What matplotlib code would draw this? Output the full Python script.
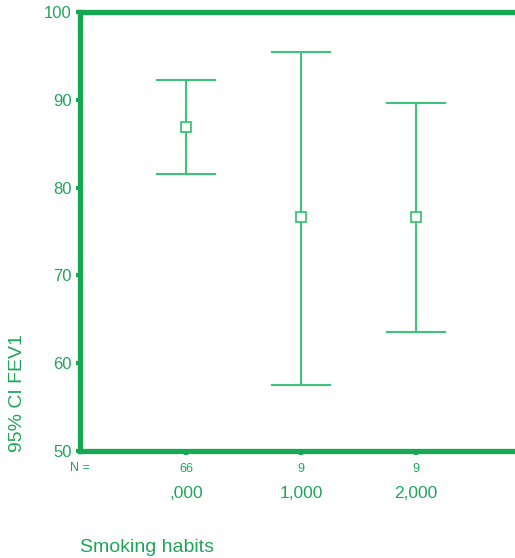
import matplotlib
matplotlib.use("Agg")
import matplotlib.pyplot as plt

categories = [",000", "1,000", "2,000"]
n_values = ["66", "9", "9"]
means = [86.9, 76.6, 76.6]
upper = [92.2, 95.4, 89.6]
lower = [81.6, 57.5, 63.5]
y_ticks = [50, 60, 70, 80, 90, 100]

frame_c = "#17a853"
bar_c = "#3cc47a"
text_c = "#1fa55a"

plt.rcParams['font.family'] = ['Liberation Sans', 'DejaVu Sans']

fig = plt.figure(figsize=(5.15, 5.58), dpi=100)
ax = fig.add_axes([80/515, 1-451/558, 1-80/515, (451-12)/558])

xs = [1, 2, 3]
for x, m, u, l in zip(xs, means, upper, lower):
    ax.plot([x, x], [l, u], color=bar_c, lw=1.5, solid_capstyle='butt')
    ax.plot([x-0.25, x+0.25], [u, u], color=bar_c, lw=1.5)
    ax.plot([x-0.25, x+0.25], [l, l], color=bar_c, lw=1.5)
    ax.plot([x], [m], marker='s', ms=7, mfc='white', mec=bar_c, mew=1.3)

ax.set_xlim(1-106/115, 3+99/115)
ax.set_ylim(50, 100)
ax.set_yticks(y_ticks)
ax.set_yticklabels([str(v) for v in y_ticks], fontsize=12, color=text_c)
ax.set_xticks(xs)
ax.set_xticklabels([])
ax.tick_params(axis='y', length=3, width=3, color=frame_c, pad=3)
ax.tick_params(axis='x', length=3, width=3, color=frame_c)

for s in ['left', 'top', 'bottom']:
    ax.spines[s].set_color(frame_c)
    ax.spines[s].set_linewidth(3.8)
ax.spines['right'].set_visible(False)

# N row
fig.text(70/515, 1-468/558, "N =", fontsize=9, color=text_c, ha='left', va='center')
for x, n in zip(xs, n_values):
    ax.text(x, -0.04, n, transform=ax.get_xaxis_transform(), fontsize=9,
            color=text_c, ha='center', va='center')
for x, c in zip(xs, categories):
    ax.text(x, -0.097, c, transform=ax.get_xaxis_transform(), fontsize=12.5,
            color=text_c, ha='center', va='center')

fig.text(80/515, 1-548/558, "Smoking habits", fontsize=14, color=text_c,
         ha='left', va='center')
fig.text(18/515, 1-393/558, "95% CI FEV1", fontsize=14, color=text_c,
         ha='center', va='center', rotation=90)

fig.savefig("out.png", dpi=100)
